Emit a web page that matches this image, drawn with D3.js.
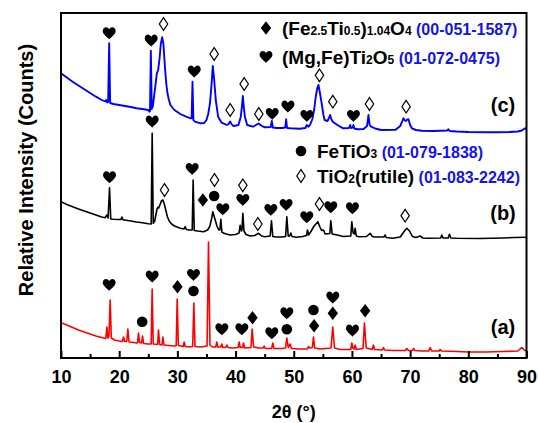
<!DOCTYPE html>
<html><head><meta charset="utf-8">
<script src="https://cdn.jsdelivr.net/npm/d3@7/dist/d3.min.js"></script>
<style>body{margin:0;background:#fff}svg{display:block}text{font-family:"Liberation Sans",Arial,sans-serif;font-weight:bold}</style>
</head><body>
<svg id="chart" width="538" height="423"></svg>
<script>
// ---- data: [2theta, relative intensity] ----
const patternA = [[10,35.3],[11,33],[12,30.5],[13,28],[14,26],[15,24],[16,22],[17,20.5],[17.7,19.5],[17.88,31],[18.05,20],[18.25,22],[18.45,58],[18.65,20],[19.2,18],[20,17],[20.55,16.5],[20.74,21],[20.95,16.5],[21.3,16.5],[21.49,29],[21.7,16],[22.5,15.5],[23.15,15],[23.32,25],[23.5,15.5],[23.85,15],[24.01,22],[24.2,14.5],[25,14],[25.5,14],[25.67,69],[25.85,14],[26.6,13.5],[26.76,28],[26.95,13.5],[27.35,13],[27.5,21],[27.7,13],[28.5,12.5],[29.5,12],[29.8,12.5],[29.97,59],[30.17,12.5],[31.0,11.5],[31.17,16],[31.35,11.5],[32.0,11],[32.63,11.5],[32.83,55],[33.03,11.5],[34,11],[35.1,12],[35.35,116],[35.6,13],[36.0,11],[36.6,11],[36.78,16],[36.95,11],[37.45,11],[37.64,14],[37.8,10.5],[38.3,10.5],[38.5,13],[38.7,10.5],[39.5,10],[40.45,10.5],[40.62,16],[40.8,10.5],[41.2,10.5],[41.36,15],[41.55,10],[42.65,10.5],[42.85,29],[43.1,11],[44,10],[44.75,10],[44.91,12],[45.1,9.5],[46.2,9.5],[46.4,15],[46.6,9.5],[48.0,9.5],[48.6,10],[48.81,20],[49.05,10.5],[49.38,14],[49.6,9.5],[51,9],[52.35,9],[52.53,11.5],[52.75,10],[53.2,10.5],[53.39,21],[53.6,10],[54.5,9],[56.4,10],[56.71,31],[57.0,10],[58,8.5],[59.8,8.5],[59.98,15],[60.2,9.5],[60.4,9],[60.55,13],[60.75,8.5],[61.9,9.5],[62.15,35],[62.45,10],[63.5,8.5],[63.69,13],[63.9,8.5],[65.2,8],[65.42,10.5],[65.6,8],[67,7.5],[69.2,7.5],[69.43,9.5],[69.7,7.5],[70.4,7.5],[70.57,9.5],[70.8,7.5],[72,7],[73.2,7],[73.44,10.5],[73.7,7],[75,7],[75.16,8.5],[75.4,7],[78,6.5],[80,6],[83,6],[86,6.5],[88.5,7],[89.19,10.5],[89.6,8],[90,7]];

const patternB = [[10,156.3],[11,153.5],[12,151.3],[13,149],[14,147],[15,145],[16,143],[17,141],[17.6,140.3],[17.88,143],[18.1,140],[18.34,170.3],[18.55,139],[19,138.7],[20,138.5],[20.3,138.5],[20.46,141],[20.65,138.3],[22,137],[23,136],[24,135.3],[25,134.3],[25.5,134],[25.67,224.7],[25.85,134.7],[26.1,137],[26.3,143],[26.5,149],[26.64,150.7],[26.8,150],[27.0,153],[27.25,157],[27.5,158],[27.75,154],[28.0,148],[28.3,141],[28.6,137],[29.0,134],[29.5,132],[30.5,129.7],[31.15,129],[31.34,131.3],[31.55,128.5],[32.0,128],[32.55,128],[32.71,178],[32.9,127.5],[33.5,127],[34.5,126.3],[35.2,128],[35.6,132],[35.9,140],[36.09,146.3],[36.3,142],[36.5,138],[36.8,132],[37.1,128],[37.3,128],[37.47,138.7],[37.65,126],[38.0,124.7],[39,123],[40.0,123.5],[40.6,125],[40.79,132.7],[41.0,127],[41.1,128],[41.25,144.7],[41.45,127],[41.8,123.5],[42.5,122],[43.3,122.5],[43.94,124.7],[44.5,122],[45,121.3],[45.95,122],[46.17,137.3],[46.4,121.5],[47,121],[48.0,121],[48.6,121.5],[48.81,141.3],[49.05,122],[49.3,122],[49.5,125],[49.7,121.5],[50.5,120.7],[51.5,121.5],[52.2,122.5],[52.36,128],[52.55,123],[53.0,127],[53.5,132],[54.14,136.3],[54.5,131],[54.8,127.5],[55.11,128],[55.4,124],[56.2,124.5],[56.37,137.3],[56.6,124],[57.5,123],[58.5,121.5],[59.8,122],[59.98,136.3],[60.2,125],[60.4,124],[60.55,129.7],[60.75,122],[61.2,121.3],[62.5,121.5],[63.13,124.7],[63.5,121.5],[64,121],[65.5,121],[65.71,123],[65.9,120.5],[67,119.7],[68.3,121],[68.9,126],[69.43,129.7],[69.9,127],[70.4,121.5],[71,120.5],[71.72,122],[72.2,120],[73,119.7],[75.25,120],[75.44,123],[75.65,120],[76.55,120],[76.76,123.7],[77,120],[78,119.7],[82,119.5],[86,120],[88,120.5],[90,120.7]];

const patternC = [[10,284.7],[11,280.5],[12,276.3],[13,272.5],[14,268.7],[15,265],[16,261.3],[17,258],[17.6,256.5],[17.77,258],[17.95,255.5],[18.1,256],[18.28,314.7],[18.45,255],[19,254],[20,253],[21,252],[22,251],[23,249.7],[24,249],[25,248],[25.2,246.3],[25.3,247],[25.44,307.3],[25.6,249],[25.8,252],[26.0,262],[26.2,271.3],[26.47,284.7],[26.7,288],[26.95,300],[27.15,314],[27.39,320.7],[27.6,314],[27.9,288],[28.1,274],[28.3,264.7],[28.55,258],[28.8,253],[29.2,250],[29.5,248],[30.5,244],[31.5,241.3],[32.3,239.7],[32.45,240],[32.6,276.3],[32.75,238],[33.0,236.3],[34,234.7],[34.6,235],[35.0,238],[35.3,244],[35.6,254.7],[35.85,272],[36.09,292],[36.3,280],[36.6,258],[37.0,241.3],[37.6,235.3],[38.5,233],[38.8,234],[39.07,236.5],[39.3,234],[39.6,232],[40.5,233],[40.9,241.3],[41.1,252],[41.25,262],[41.4,252],[41.6,241.3],[42.0,233],[43,231.3],[43.5,233],[43.94,234.5],[44.4,232.5],[45,230.7],[46.05,231],[46.23,237],[46.4,230.5],[47,230],[48,230],[48.55,230.5],[48.69,238.7],[48.85,230],[49.5,229.7],[51,229.3],[52.0,230],[52.24,233],[52.5,231.3],[52.8,233],[53.2,239],[53.5,248],[53.8,262],[54.05,270],[54.25,273],[54.5,265],[54.8,254.7],[55.1,243],[55.3,238],[55.8,237],[56.05,240],[56.25,243],[56.45,239],[56.7,236.3],[57.5,233],[58.5,229.7],[59.5,230],[59.69,233],[59.85,230],[60.1,230.5],[60.26,233],[60.4,229.5],[61,228.7],[62,229],[62.6,232],[62.84,243],[63.05,233],[63.3,231.3],[64,229.5],[65,228],[67.5,228.3],[68.3,232],[68.6,236],[68.85,239.7],[69.1,237.5],[69.3,237],[69.5,238.5],[69.71,238.7],[70.0,233],[70.3,229.7],[71,228],[72,227.3],[74,227],[76.35,227.5],[76.59,228.7],[76.8,227],[78,226.5],[80,226],[83,225.8],[85,225.7],[87,226],[88.5,226.5],[89.2,227.5],[89.76,229.7],[90,228.5]];

const seriesNames = ["(a)", "(b)", "(c)"];
const seriesColors = ["#ff0000", "#000000", "#0000ff"];
const seriesLabelY = [31, 145, 253];

// phase markers [2theta, intensity position]
const heartMarks = [[18.28,324.7],[25.5,317.3],[32.9,286.3],[46.3,244],[49.0,251.3],[52.25,242],[60.26,242],
  [18.34,180.7],[25.67,236.3],[32.54,189],[37.81,148.7],[41.25,158],[46.06,148],[48.69,153],[52.24,140.7],[56.37,150.7],[60.09,149.7],
  [18.28,73],[25.67,81.3],[32.77,83],[37.64,28.7],[41.08,28.7],[46.23,24.7],[48.81,44.7],[56.71,60.3],[60.09,27.3]];
const diamondMarks = [[34.38,158],[30.02,71.3],[42.91,40.3],[53.5,32.3],[56.71,44.7],[62.27,47.3]];
const circleMarks = [[36.32,162],[23.95,36.3],[32.77,67],[48.81,28.7],[53.39,48]];
const openDiamondMarks = [[27.62,334],[36.32,304],[39.07,248],[41.48,274],[44.0,244],[54.42,282.7],[56.71,256.3],[63.01,254],[69.31,251.3],
  [27.79,168],[36.38,178],[41.25,172.7],[43.83,134],[54.42,154],[69.14,142.3]];

const xTicks = [10,20,30,40,50,60,70,80,90];
const xMinorTicks = [15,25,35,45,55,65,75,85];

// ---- drawing ----
const svg = d3.select("#chart");
const L = 61, R = 526.5, T = 13, B = 358;
const x = d3.scaleLinear().domain([10,90]).range([L,R]);
const y = d3.scaleLinear().domain([0,345]).range([B,T]);

svg.append("clipPath").attr("id","clip").append("rect").attr("x",L).attr("y",T).attr("width",R-L).attr("height",B-T);

const line = d3.line().x(d=>x(d[0])).y(d=>y(d[1]));
const patterns = [patternA, patternB, patternC];
const g = svg.append("g").attr("clip-path","url(#clip)");
patterns.forEach((p,i)=>{
  g.append("path").datum(p).attr("d",line).attr("fill","none")
   .attr("stroke",seriesColors[i]).attr("stroke-width", i===2?1.9:1.6).attr("stroke-linejoin","round");
});

// markers
const heartPath = "M0,6 C-1.5,4 -6.5,0.8 -6.5,-2.4 C-6.5,-5.6 -3.4,-7 -1.4,-5.5 C-0.7,-5 -0.3,-4.4 0,-3.7 C0.3,-4.4 0.7,-5 1.4,-5.5 C3.4,-7 6.5,-5.6 6.5,-2.4 C6.5,0.8 1.5,4 0,6 Z";
const diamondPath = "M0,-6.8 L5.2,0 L0,6.8 L-5.2,0 Z";
const openDiamondPath = "M0,-6.3 L4.2,0 L0,6.3 L-4.2,0 Z";
function drawMarks(data, path, fill, stroke){
  svg.append("g").selectAll("path").data(data).join("path")
    .attr("d", path).attr("transform", d=>`translate(${x(d[0])},${y(d[1])})`)
    .attr("fill", fill).attr("stroke", stroke).attr("stroke-width", stroke==="none"?0:1.2);
}
drawMarks(heartMarks, heartPath, "#000", "none");
drawMarks(diamondMarks, diamondPath, "#000", "none");
drawMarks(openDiamondMarks, openDiamondPath, "#fff", "#000");
svg.append("g").selectAll("circle").data(circleMarks).join("circle")
  .attr("cx",d=>x(d[0])).attr("cy",d=>y(d[1])).attr("r",5.3).attr("fill","#000");

// axes
const ax = svg.append("g").attr("transform",`translate(0,${B})`)
  .call(d3.axisBottom(x).tickValues(xTicks).tickSize(-7).tickPadding(12).tickFormat(d3.format("d")));
ax.select(".domain").remove();
ax.selectAll("line").attr("stroke-width",2);
ax.selectAll("text").attr("font-size",18).attr("fill","#000");
const axm = svg.append("g").attr("transform",`translate(0,${B})`)
  .call(d3.axisBottom(x).tickValues(xMinorTicks).tickSize(-4).tickFormat(""));
axm.select(".domain").remove();
axm.selectAll("line").attr("stroke-width",2);

svg.append("rect").attr("x",L).attr("y",T).attr("width",R-L).attr("height",B-T)
  .attr("fill","none").attr("stroke","#000").attr("stroke-width",2);

// axis titles
svg.append("text").attr("x",(L+R)/2).attr("y",418).attr("text-anchor","middle").attr("font-size",18).text("2θ (°)");
svg.append("text").attr("transform","translate(33,170) rotate(-90)").attr("text-anchor","middle").attr("font-size",20).text("Relative Intensity (Counts)");

// series labels
seriesNames.forEach((n,i)=>{
  svg.append("text").attr("x",503).attr("y",y(seriesLabelY[i])+7).attr("text-anchor","middle").attr("font-size",20).text(n);
});

// legend
const blue = "#1414e6";
function legendRow(sx, sy, symbol, parts, code){
  if(symbol==="heart") svg.append("path").attr("d",heartPath).attr("transform",`translate(${sx},${sy})`).attr("fill","#000");
  if(symbol==="diamond") svg.append("path").attr("d",diamondPath).attr("transform",`translate(${sx},${sy})`).attr("fill","#000");
  if(symbol==="open") svg.append("path").attr("d",openDiamondPath).attr("transform",`translate(${sx},${sy})`).attr("fill","#fff").attr("stroke","#000").attr("stroke-width",1.2);
  if(symbol==="circle") svg.append("circle").attr("cx",sx).attr("cy",sy).attr("r",5.3).attr("fill","#000");
  const t = svg.append("text").attr("x",sx+16).attr("y",sy+6.5).attr("font-size",19);
  parts.forEach(p=>{
    t.append("tspan").attr("font-size",p[1]?12:19).text(p[0]);
  });
  t.append("tspan").attr("fill",blue).attr("font-size",16).text(" " + code);
}
legendRow(266, 28, "diamond", [["(Fe"],["2.5",1],["Ti"],["0.5",1],[")"],["1.04",1],["O"],["4",1]], "(00-051-1587)");
legendRow(266, 57, "heart", [["(Mg,Fe)Ti"],["2",1],["O"],["5",1]], "(01-072-0475)");
legendRow(301, 151, "circle", [["FeTiO"],["3",1]], "(01-079-1838)");
legendRow(301, 176, "open", [["TiO"],["2",1],["(rutile)"]], "(01-083-2242)");
</script>
</body></html>
